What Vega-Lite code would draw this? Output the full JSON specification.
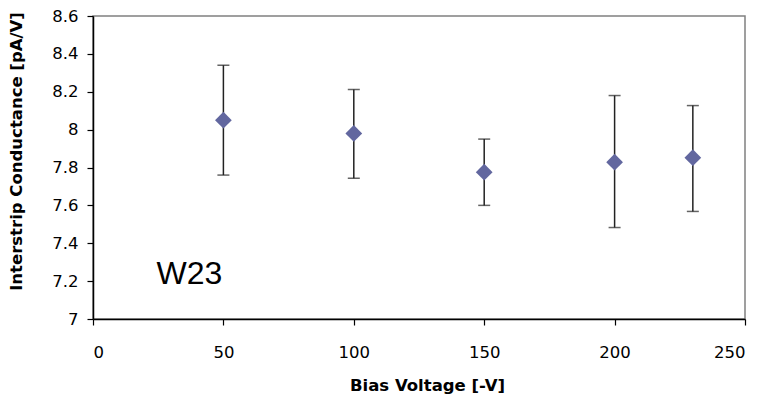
{
  "$schema": "https://vega.github.io/schema/vega-lite/v6.json",
  "autosize": "none",
  "width": 652,
  "height": 303,
  "padding": {"left": 93, "top": 16, "right": 24, "bottom": 78},
  "background": "white",
  "config": {
    "view": {"stroke": "#808080", "strokeWidth": 1.5},
    "axis": {
      "labelFont": "DejaVu Sans",
      "labelFontSize": 16.5,
      "labelColor": "#000",
      "labelOverlap": false,
      "titleFont": "DejaVu Sans",
      "titleFontWeight": "bold",
      "titleFontSize": 16.5,
      "titleColor": "#000",
      "domainColor": "#000",
      "domainWidth": 1.5,
      "tickColor": "#000",
      "tickWidth": 1.2,
      "tickSize": 6,
      "grid": false
    }
  },
  "data": {
    "values": [
      {"v": 50, "g": 8.05, "lo": 7.76, "hi": 8.34},
      {"v": 100, "g": 7.98, "lo": 7.743, "hi": 8.212},
      {"v": 150, "g": 7.775, "lo": 7.6, "hi": 7.95},
      {"v": 200, "g": 7.828, "lo": 7.483, "hi": 8.18},
      {"v": 230, "g": 7.852, "lo": 7.568, "hi": 8.127}
    ]
  },
  "encoding": {
    "x": {
      "field": "v",
      "type": "quantitative",
      "scale": {"domain": [0, 250], "nice": false},
      "axis": {
        "values": [0, 50, 100, 150, 200, 250],
        "title": "Bias Voltage [-V]",
        "labelPadding": 19,
        "titleX": 334,
        "titleY": 58
      }
    }
  },
  "layer": [
    {
      "mark": {"type": "rule", "color": "#222", "strokeWidth": 1.5},
      "encoding": {
        "y": {
          "field": "lo",
          "type": "quantitative",
          "scale": {"domain": [7, 8.6], "nice": false, "zero": false},
          "axis": {
            "values": [7, 7.2, 7.4, 7.6, 7.8, 8, 8.2, 8.4, 8.6],
            "format": ".1~f",
            "title": "Interstrip Conductance [pA/V]",
            "labelPadding": 9,
            "titleX": -69,
            "titleY": 135
          }
        },
        "y2": {"field": "hi"}
      }
    },
    {
      "mark": {"type": "tick", "color": "#222", "orient": "horizontal", "size": 12, "thickness": 1.5},
      "encoding": {"y": {
        "field": "lo",
        "type": "quantitative",
        "scale": {"domain": [7, 8.6], "nice": false, "zero": false},
        "axis": {
          "values": [7, 7.2, 7.4, 7.6, 7.8, 8, 8.2, 8.4, 8.6],
          "format": ".1~f",
          "title": "Interstrip Conductance [pA/V]",
          "labelPadding": 9,
          "titleX": -69,
          "titleY": 135
        }
      }}
    },
    {
      "mark": {"type": "tick", "color": "#222", "orient": "horizontal", "size": 12, "thickness": 1.5},
      "encoding": {"y": {
        "field": "hi",
        "type": "quantitative",
        "scale": {"domain": [7, 8.6], "nice": false, "zero": false},
        "axis": {
          "values": [7, 7.2, 7.4, 7.6, 7.8, 8, 8.2, 8.4, 8.6],
          "format": ".1~f",
          "title": "Interstrip Conductance [pA/V]",
          "labelPadding": 9,
          "titleX": -69,
          "titleY": 135
        }
      }}
    },
    {
      "mark": {"type": "point", "shape": "diamond", "filled": true, "size": 280, "color": "#62679F", "opacity": 1},
      "encoding": {"y": {
        "field": "g",
        "type": "quantitative",
        "scale": {"domain": [7, 8.6], "nice": false, "zero": false},
        "axis": {
          "values": [7, 7.2, 7.4, 7.6, 7.8, 8, 8.2, 8.4, 8.6],
          "format": ".1~f",
          "title": "Interstrip Conductance [pA/V]",
          "labelPadding": 9,
          "titleX": -69,
          "titleY": 135
        }
      }}
    },
    {
      "data": {"values": [{"label": "W23", "lx": 37, "ly": 7.235}]},
      "mark": {"type": "text", "font": "Liberation Sans", "fontSize": 32, "align": "center", "baseline": "middle", "color": "#000"},
      "encoding": {
        "x": {"field": "lx", "type": "quantitative"},
        "y": {
          "field": "ly",
          "type": "quantitative",
          "scale": {"domain": [7, 8.6], "nice": false, "zero": false},
          "axis": {
            "values": [7, 7.2, 7.4, 7.6, 7.8, 8, 8.2, 8.4, 8.6],
            "format": ".1~f",
            "title": "Interstrip Conductance [pA/V]",
            "labelPadding": 9,
            "titleX": -69,
            "titleY": 135
          }
        },
        "text": {"field": "label"}
      }
    }
  ]
}
